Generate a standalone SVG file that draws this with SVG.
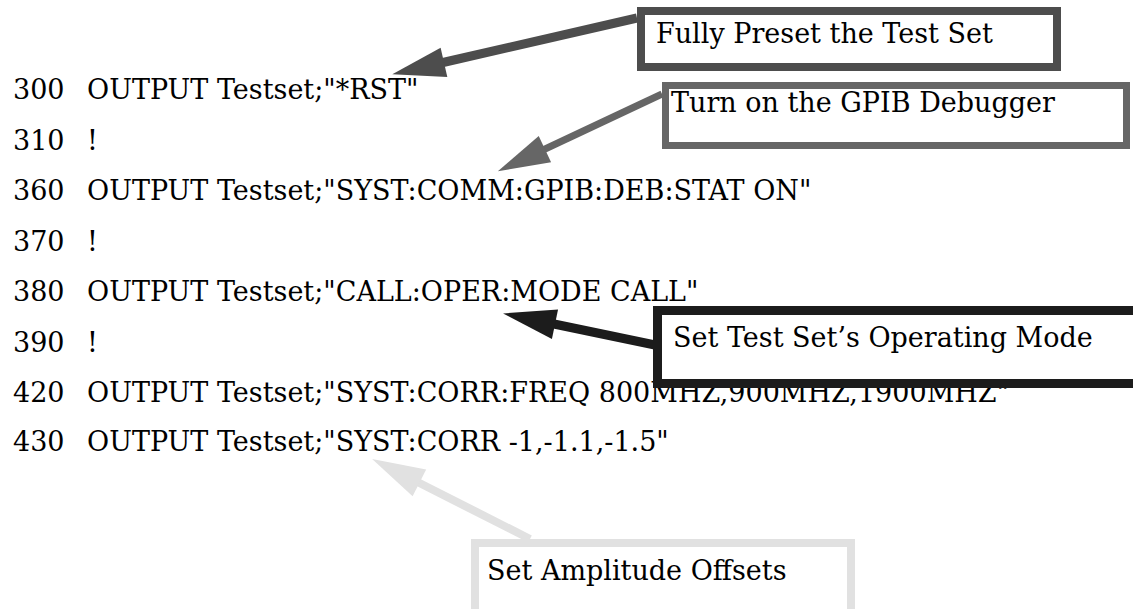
<svg xmlns="http://www.w3.org/2000/svg" width="1133" height="609" viewBox="0 0 1133 609">
  <style>
    text { font-family: "DejaVu Serif", "Liberation Serif", serif; font-size: 27px; fill: #000; }
    .note { fill: #fff; }
    .n1 { stroke: #4d4d4d; stroke-width: 8; }
    .n2 { stroke: #666666; stroke-width: 7; }
    .n3 { stroke: #1c1c1c; stroke-width: 9; }
    .n4 { stroke: #e1e1e1; stroke-width: 8; }
    .lead { fill: none; stroke-linecap: butt; }
  </style>
  <defs>
    <marker id="head1" markerUnits="userSpaceOnUse" viewBox="-2 -16 56 32" refX="0" refY="0" markerWidth="56" markerHeight="32" orient="auto">
      <path d="M-1,-15 L52,0 L-1,15 Z" fill="#4d4d4d"/>
    </marker>
    <marker id="head2" markerUnits="userSpaceOnUse" viewBox="-2 -16 56 32" refX="0" refY="0" markerWidth="56" markerHeight="32" orient="auto">
      <path d="M-1,-14.5 L51,0 L-1,14.5 Z" fill="#666666"/>
    </marker>
    <marker id="head3" markerUnits="userSpaceOnUse" viewBox="-2 -16 56 32" refX="0" refY="0" markerWidth="56" markerHeight="32" orient="auto">
      <path d="M-1,-15 L52,0 L-1,15 Z" fill="#1c1c1c"/>
    </marker>
    <marker id="head4" markerUnits="userSpaceOnUse" viewBox="-2 -16 56 32" refX="0" refY="0" markerWidth="56" markerHeight="32" orient="auto">
      <path d="M-1,-15 L52,0 L-1,15 Z" fill="#e1e1e1"/>
    </marker>
  </defs>

  <rect width="1133" height="609" fill="#fff"/>

  <!-- program listing -->
  <g id="listing">
    <text x="13" y="99">300</text><text x="87" y="99">OUTPUT Testset;"*RST"</text>
    <text x="13" y="150">310</text><text x="87" y="150">!</text>
    <text x="13" y="200">360</text><text x="87" y="200">OUTPUT Testset;"SYST:COMM:GPIB:DEB:STAT ON"</text>
    <text x="13" y="251">370</text><text x="87" y="251">!</text>
    <text x="13" y="301">380</text><text x="87" y="301">OUTPUT Testset;"CALL:OPER:MODE CALL"</text>
    <text x="13" y="352">390</text><text x="87" y="352">!</text>
    <text x="13" y="402">420</text><text x="87" y="402">OUTPUT Testset;"SYST:CORR:FREQ 800MHZ,900MHZ,1900MHZ"</text>
    <text x="13" y="451">430</text><text x="87" y="451">OUTPUT Testset;"SYST:CORR -1,-1.1,-1.5"</text>
  </g>

  <!-- leader arrows from the notes to the program lines -->
  <g id="connectors" class="lead">
    <line x1="637" y1="18" x2="443" y2="62.5" stroke="#4d4d4d" stroke-width="9" marker-end="url(#head1)"/>
    <line x1="662" y1="94" x2="544" y2="149.5" stroke="#666666" stroke-width="7" marker-end="url(#head2)"/>
    <line x1="655" y1="345" x2="554" y2="324" stroke="#1c1c1c" stroke-width="9" marker-end="url(#head3)"/>
    <line x1="530" y1="539" x2="418.5" y2="482.5" stroke="#e1e1e1" stroke-width="8" marker-end="url(#head4)"/>
  </g>

  <g id="note-preset">
    <rect class="note n1" x="641" y="11" width="416" height="56"/>
    <text x="656" y="43">Fully Preset the Test Set</text>
  </g>

  <g id="note-debugger">
    <rect class="note n2" x="665.5" y="85.5" width="461" height="60"/>
    <text x="671" y="112">Turn on the GPIB Debugger</text>
  </g>

  <!-- this note sits over the top of line 420 -->
  <g id="note-mode">
    <rect class="note n3" x="657.5" y="310.5" width="500" height="73"/>
    <text x="673" y="347">Set Test Set’s Operating Mode</text>
  </g>

  <g id="note-offsets">
    <rect class="note n4" x="475" y="543" width="376" height="100"/>
    <text x="487" y="580">Set Amplitude Offsets</text>
  </g>
</svg>
